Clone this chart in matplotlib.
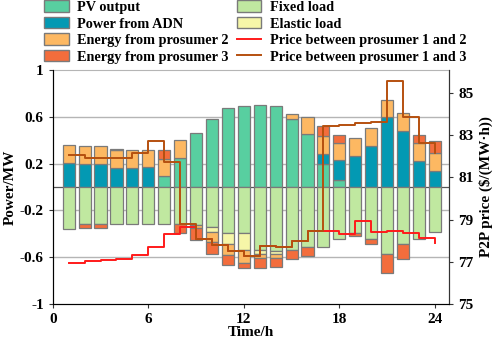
import matplotlib
matplotlib.use("Agg")
import matplotlib.pyplot as plt
import numpy as np
from matplotlib.patches import Patch
from matplotlib.lines import Line2D

hours = list(range(1, 25))
pv_output = [0, 0, 0, 0, 0, 0, 0.09, 0.25, 0.465, 0.58, 0.675, 0.69,
             0.70, 0.695, 0.58, 0.45, 0.195, 0.058, 0, 0, 0, 0, 0, 0]
power_adn = [0.207, 0.20, 0.20, 0.165, 0.158, 0.17, 0, 0, 0, 0, 0, 0,
             0, 0, 0, 0, 0.087, 0.17, 0.268, 0.347, 0.594, 0.478, 0.22, 0.138]
energy_p2 = [0.148, 0.15, 0.15, 0.153, 0.162, 0.15, 0.148, 0.15, -0.025, -0.085, -0.10, -0.11,
             -0.028, -0.035, 0.045, 0.145, 0.156, 0.15, 0.15, 0.153, 0.15, 0.15, 0.156, 0.153]
energy_p3 = [0, -0.034, -0.034, 0.005, 0, 0, 0.082, -0.085, -0.108, -0.105, -0.085, -0.04,
             -0.09, -0.078, -0.08, -0.08, 0.08, 0.066, -0.022, -0.045, -0.165, -0.13, 0.07, 0.10]
fixed_load = [-0.356, -0.313, -0.313, -0.318, -0.318, -0.318, -0.313, -0.313, -0.322, -0.342, -0.398, -0.393,
              -0.54, -0.545, -0.54, -0.512, -0.512, -0.444, -0.395, -0.447, -0.573, -0.49, -0.441, -0.382]
elastic_load = [0, 0, 0, 0, 0, 0, 0, 0, 0, -0.043, -0.086, -0.15,
                -0.037, -0.03, 0, 0, 0, 0, 0, 0, 0, 0, 0, 0]
price_12 = [76.95, 77.03, 77.08, 77.15, 77.32, 77.70, 78.32, 78.65, 78.10, 77.80, 77.52, 77.28,
            77.76, 77.68, 78.00, 78.45, 78.45, 78.30, 78.94, 78.43, 78.47, 78.37, 78.15, 77.90]
price_13 = [82.06, 81.92, 81.92, 81.92, 82.15, 82.73, 81.74, 78.78, 78.10, 77.80, 77.52, 77.28,
            77.76, 77.68, 78.00, 78.45, 83.43, 83.51, 83.57, 83.62, 85.60, 83.85, 82.64, 82.17]

left_ticks = [-1, -0.6, -0.2, 0.2, 0.6, 1]
left_ticklabels = ["-1", "-0.6", "-0.2", "0.2", "0.6", "1"]
right_ticks = [75, 77, 79, 81, 83, 85]
x_ticks = [0, 6, 12, 18, 24]

c_pv = "#58cfa0"
c_adn = "#0399b3"
c_p2 = "#fdb862"
c_p3 = "#f36d3c"
c_fix = "#c0e8a0"
c_ela = "#f6f6a8"
c_r = "#ff1a1a"
c_b = "#b5500f"
edge = "#7a7a7a"

plt.rcParams["font.family"] = ["Liberation Serif", "DejaVu Serif"]
plt.rcParams["font.weight"] = "bold"
plt.rcParams["font.size"] = 11

fig = plt.figure(figsize=(4.98, 3.43), dpi=100)
ax = fig.add_axes([0.106, 0.114, 0.796, 0.682])

x = np.array(hours)
w = 0.76
pos_base = np.zeros(24)
neg_base = np.zeros(24)
series = [(pv_output, c_pv), (power_adn, c_adn), (energy_p2, c_p2), (energy_p3, c_p3)]
neg_series = [(fixed_load, c_fix), (elastic_load, c_ela), (energy_p2, c_p2), (energy_p3, c_p3)]

for vals, col in series:
    v = np.array(vals)
    vp = np.where(v > 0, v, 0)
    m = vp > 0
    ax.bar(x[m], vp[m], w, bottom=pos_base[m], color=col, edgecolor=edge, linewidth=0.9, zorder=2)
    pos_base += vp
for vals, col in neg_series:
    v = np.array(vals)
    vn = np.where(v < 0, v, 0)
    m = vn < 0
    ax.bar(x[m], vn[m], w, bottom=neg_base[m], color=col, edgecolor=edge, linewidth=0.9, zorder=2)
    neg_base += vn

ax.axhline(0, color="#555555", lw=0.9, zorder=1.5)
for g in [-0.6, -0.2, 0.2, 0.6]:
    ax.axhline(g, color="#b5b5b5", lw=1.0, zorder=1)

ax.set_xlim(0, 24.9)
ax.set_ylim(-1, 1)
ax.set_yticks(left_ticks)
ax.set_yticklabels(left_ticklabels)
ax.set_xticks(x_ticks)
ax.set_xlabel("Time/h", fontweight="bold", labelpad=0)
ax.set_ylabel("Power/MW", fontweight="bold", labelpad=2)
ax.spines["top"].set_color("#b5b5b5")
for s in ["left", "bottom", "right"]:
    ax.spines[s].set_color("#333333")
ax.tick_params(direction="out", length=3, color="#333333")

ax2 = ax.twinx()
ax2.step(x, price_12, where="post", color=c_r, lw=1.4, zorder=3)
ax2.step(x, price_13, where="post", color=c_b, lw=1.4, zorder=4)
ax2.set_ylim(75, 86.1)
ax2.set_yticks(right_ticks)
ax2.set_ylabel("P2P price ($/(MW·h))", fontweight="bold", labelpad=4)
ax2.spines["top"].set_visible(False)
ax2.spines["right"].set_color("#333333")
ax2.tick_params(direction="out", length=3, color="#333333")

handles = [
    Patch(facecolor=c_pv, edgecolor=edge, label="PV output"),
    Patch(facecolor=c_adn, edgecolor=edge, label="Power from ADN"),
    Patch(facecolor=c_p2, edgecolor=edge, label="Energy from prosumer 2"),
    Patch(facecolor=c_p3, edgecolor=edge, label="Energy from prosumer 3"),
    Patch(facecolor=c_fix, edgecolor=edge, label="Fixed load"),
    Patch(facecolor=c_ela, edgecolor=edge, label="Elastic load"),
    Line2D([], [], color=c_r, lw=1.4, label="Price between prosumer 1 and 2"),
    Line2D([], [], color=c_b, lw=1.4, label="Price between prosumer 1 and 3"),
]
fig.legend(handles=handles, ncol=2, loc="upper left", bbox_to_anchor=(0.072, 1.024),
           frameon=False, fontsize=10.3, handlelength=1.7, handleheight=0.85, handletextpad=0.6,
           columnspacing=0.55, labelspacing=0.2, borderaxespad=0.2)

fig.savefig("out.png", dpi=100)
